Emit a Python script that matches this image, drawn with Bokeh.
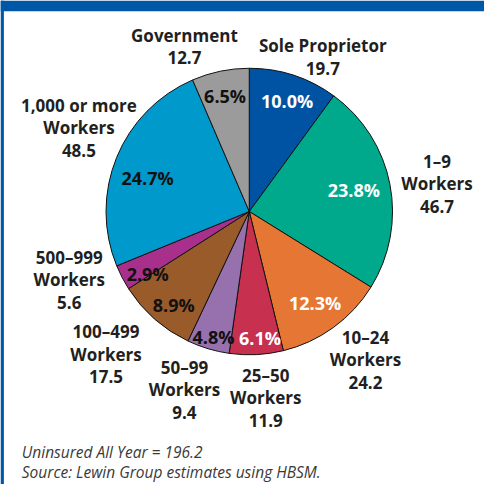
import math
from bokeh.plotting import figure
from bokeh.models import Range1d, ColumnDataSource
from bokeh.core.properties import value
from bokeh.embed import file_html
from bokeh.resources import INLINE

# ---- data ----
categories = ["Sole Proprietor", "1\u20139 Workers", "10\u201324 Workers", "25\u201350 Workers",
              "50\u201399 Workers", "100\u2013499 Workers", "500\u2013999 Workers",
              "1,000 or more Workers", "Government"]
values = [19.7, 46.7, 24.2, 11.9, 9.4, 17.5, 5.6, 48.5, 12.7]
percents = ["10.0%", "23.8%", "12.3%", "6.1%", "4.8%", "8.9%", "2.9%", "24.7%", "6.5%"]
label_lines = [["Sole Proprietor", "19.7"], ["1\u20139", "Workers", "46.7"],
               ["10\u201324", "Workers", "24.2"], ["25\u201350", "Workers", "11.9"],
               ["50\u201399", "Workers", "9.4"], ["100\u2013499", "Workers", "17.5"],
               ["500\u2013999", "Workers", "5.6"], ["1,000 or more", "Workers", "48.5"],
               ["Government", "12.7"]]
total_label = "Uninsured All Year = 196.2"
source_note = "Source:  Lewin Group estimates using HBSM."

# ---- styles / layout ----
colors = ["#0052A2", "#00A88C", "#E67634", "#C7304F", "#9770AE", "#9A5B2B", "#A8308C", "#0099CB", "#9B9B9B"]
pct_colors = ["white", "white", "white", "white", "#111", "#111", "#111", "#111", "#111"]
# positions in reference-pixel coordinates (x right, y down), 500x500 canvas
pct_pos = [(296, 104), (365, 196), (325, 313), (268, 349), (220, 348), (179, 315), (152, 283), (152, 183), (232, 99)]
label_pos = [(333, 47), (451, 166), (377, 348), (274, 387), (190, 379), (109, 342), (71, 265), (81, 108), (190, 36)]
line_gap = 23.3
cx, cy, R = 257, 218, 148

W = H = 484
p = figure(width=W, height=H, output_backend="svg", toolbar_location=None,
           x_range=Range1d(0, 500), y_range=Range1d(0, 500),
           x_axis_location=None, y_axis_location=None, min_border=0)
p.grid.visible = False
p.outline_line_color = None
p.background_fill_color = "white"

def Y(y):
    return 500 - y

# blue frame
p.quad(left=[0], right=[500], bottom=[Y(11)], top=[Y(0)], color="#0057A8", line_color=None)
p.quad(left=[0], right=[3.5], bottom=[Y(500)], top=[Y(0)], color="#0057A8", line_color=None)

tot = sum(values)
starts, ends = [], []
acc = 0.0
for v in values:
    starts.append(math.pi / 2 - 2 * math.pi * acc / tot)
    acc += v
    ends.append(math.pi / 2 - 2 * math.pi * acc / tot)

src = ColumnDataSource(dict(x=[cx] * len(values), y=[Y(cy)] * len(values), s=starts, e=ends,
                            c=colors, cat=categories, v=values))
p.wedge(x="x", y="y", radius=R, start_angle="s", end_angle="e", direction="clock",
        fill_color="c", line_color="#111111", line_width=1, source=src)

font = value("Open Sans")
p.text(x=[q[0] for q in pct_pos], y=[Y(q[1]) for q in pct_pos], text=percents,
       text_color=pct_colors, text_font=font, text_font_style="bold", text_font_size="18px",
       text_align="center", text_baseline="middle")

lx, ly, lt = [], [], []
for (x0, y0), lines in zip(label_pos, label_lines):
    for i, t in enumerate(lines):
        lx.append(x0)
        ly.append(Y(y0 + i * line_gap))
        lt.append(t)
p.text(x=lx, y=ly, text=lt, text_color="#231F20", text_font=font, text_font_style="bold",
       text_font_size="17px", text_align="center", text_baseline="middle")

p.text(x=[22, 22], y=[Y(466), Y(487)], text=[total_label, source_note], text_color="#3a3a3a",
       text_font=font, text_font_style="italic", text_font_size="15.5px",
       text_align="left", text_baseline="middle")

open("out.html", "w").write(file_html(p, INLINE))
